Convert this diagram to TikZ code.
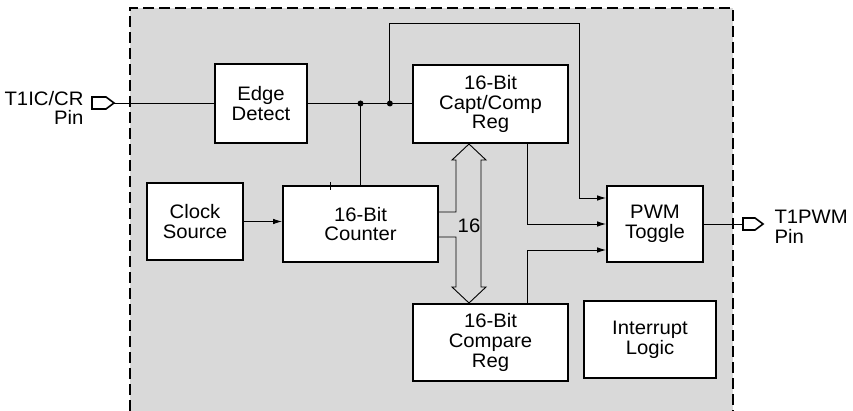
\documentclass[tikz,border=0pt]{standalone}
\usepackage{fontspec}
\setmainfont{Liberation Sans}[FakeStretch=1.04]
\usetikzlibrary{arrows.meta,calc}

\begin{document}
\begin{tikzpicture}[x=1pt,y=-1pt,
    font=\fontsize{19.5}{19.7}\selectfont,
    blk/.style={draw,line width=1.8pt,fill=white,align=center,inner sep=0pt},
    wire/.style={line width=0.9pt},
    arr/.style={wire,-{Latex[length=9pt,width=5.5pt]}},
    pinbox/.style={line width=1.6pt,fill=white}]

    \useasboundingbox (0,0) rectangle (853,411);
    % shaded module outline, open at the bottom
    \fill[black!15] (130,8) rectangle (733,411);
    \draw[line width=1.3pt,dash pattern=on 11pt off 5pt] (130,411) -- (130,8) -- (733,8) -- (733,411);

    \node[blk,minimum width=92pt,minimum height=79pt] (edge) at (261,103.5) {Edge\\Detect};
    \node[blk,minimum width=155pt,minimum height=78pt] (capt) at (490.5,104) {16-Bit\\Capt/Comp\\Reg};
    \node[blk,minimum width=96pt,minimum height=77pt] (clock) at (195,221.5) {Clock\\Source};
    \node[blk,minimum width=155pt,minimum height=76pt] (counter) at (360.5,224) {16-Bit\\Counter};
    \node[blk,minimum width=96pt,minimum height=76pt] (pwm) at (655,224) {PWM\\Toggle};
    \node[blk,minimum width=155pt,minimum height=77pt] (compare) at (490.5,342.5) {16-Bit\\Compare\\Reg};
    \node[blk,minimum width=132pt,minimum height=77pt] (intr) at (650,339.5) {Interrupt\\Logic};

    % pins
    \coordinate (inpin) at (92,103);
    \coordinate (outpin) at (743,224);
    \draw[pinbox] (inpin) -- ++(0,-6) -- ++(14,0) -- ++(8,6) -- ++(-8,6) -- ++(-14,0) -- cycle;
    \draw[pinbox] (outpin) -- ++(0,-6) -- ++(12,0) -- ++(8,6) -- ++(-8,6) -- ++(-12,0) -- cycle;
    \node[anchor=east,align=right] (inlbl) at (87,108) {T1IC/CR\\Pin};
    \node[anchor=west,align=left] (outlbl) at (771,227) {T1PWM\\Pin};

    \draw[wire] ($(inpin)+(22,0)$) -- (inpin -| edge.west);
    \draw[wire] (pwm.east) -- (outpin);

    % edge detect fan out
    \coordinate (j1) at (edge.east -| counter.north);
    \coordinate (j2) at ($(edge.east)+(82,0)$);
    \draw[wire] (edge.east) -- (edge.east -| capt.west);
    \draw[wire] (j1) -- (counter.north);
    \fill (j1) circle (3pt);
    \fill (j2) circle (3pt);
    \draw[wire] (330,182) -- (330,190);

    \draw[arr] (j2) |- (579,23) |- ($(pwm.west)+(0,-26)$);
    \draw[arr] ($(capt.south)+(36.5,0)$) |- (pwm.west);
    \draw[arr] ($(compare.north)+(36.5,0)$) |- ($(pwm.west)+(0,26)$);
    \draw[arr] (clock.east) -- (clock.east -| counter.west);

    % 16 bit bus
    \draw[wire] (438,212) -- (456,212) -- (456,160) -- (452,160) -- (469,144) -- (486,160) -- (481,160)
        -- (481,287) -- (486,287) -- (469,303) -- (452,287) -- (456,287) -- (456,237) -- (438,237);
    \node (bw) at (469,226) {16};
\end{tikzpicture}
\end{document}
